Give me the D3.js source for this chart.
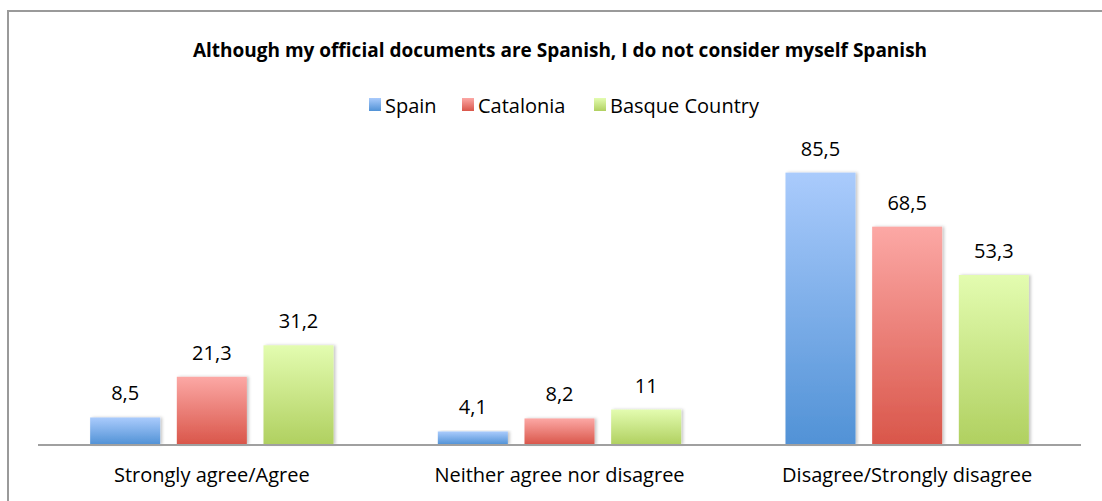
<!DOCTYPE html>
<html>
<head>
<meta charset="utf-8">
<script src="https://cdn.jsdelivr.net/npm/d3@7"></script>
<style>
  html, body { margin: 0; padding: 0; background: #fff; }
  svg { display: block; }
  text { font-family: "Open Sans", Lato, "Liberation Sans", sans-serif; fill: #000; }
</style>
</head>
<body>
<svg id="chart" width="1102" height="501"></svg>
<script>
// Survey answers by region
const categories = ["Strongly agree/Agree", "Neither agree nor disagree", "Disagree/Strongly disagree"];
const seriesNames = ["Spain", "Catalonia", "Basque Country"];
const spainValues = [8.5, 4.1, 85.5];
const cataloniaValues = [21.3, 8.2, 68.5];
const basqueValues = [31.2, 11, 53.3];
const titleText = "Although my official documents are Spanish, I do not consider myself Spanish";

const seriesValues = [spainValues, cataloniaValues, basqueValues];
// top / bottom colours of each series' vertical gradient
const gradientStops = [
  ["#aacbfc", "#5192d6"],
  ["#fca8a5", "#d9564a"],
  ["#e3fcb0", "#b0d060"]
];

const svg = d3.select("#chart");
const defs = svg.append("defs");

gradientStops.forEach((c, i) => {
  const g = defs.append("linearGradient")
    .attr("id", "grad" + i)
    .attr("x1", 0).attr("y1", 0).attr("x2", 0).attr("y2", 1);
  g.append("stop").attr("offset", "0%").attr("stop-color", c[0]);
  g.append("stop").attr("offset", "100%").attr("stop-color", c[1]);
});

const shadow = defs.append("filter").attr("id", "barShadow")
  .attr("x", "-20%").attr("y", "-10%").attr("width", "150%").attr("height", "120%");
shadow.append("feDropShadow")
  .attr("dx", 2).attr("dy", 0).attr("stdDeviation", 1.6)
  .attr("flood-color", "#000").attr("flood-opacity", 0.22);

// chart frame
svg.append("path")
  .attr("d", "M8,501 L8,11 L1102,11")
  .attr("fill", "none").attr("stroke", "#9a9a9a").attr("stroke-width", 2);

// title
svg.append("text")
  .attr("x", 560).attr("y", 57)
  .attr("text-anchor", "middle")
  .attr("font-weight", "bold")
  .attr("font-size", 19)
  .text(titleText);

// scales
const x0 = d3.scaleBand()
  .domain(categories)
  .range([38, 1081])
  .paddingInner(0.3)
  .paddingOuter(0.15);

const x1 = d3.scaleBand()
  .domain(seriesNames)
  .range([0, x0.bandwidth()])
  .paddingInner(0.192)
  .paddingOuter(0);

const y = d3.scaleLinear()
  .domain([0, 90])
  .range([444.5, 158.3]);

// bars
const groups = svg.append("g").selectAll("g")
  .data(categories)
  .join("g")
  .attr("transform", d => `translate(${x0(d)},0)`);

groups.selectAll("rect")
  .data((d, ci) => seriesNames.map((s, si) => ({ s, si, v: seriesValues[si][ci] })))
  .join("rect")
  .attr("x", d => x1(d.s))
  .attr("y", d => y(d.v))
  .attr("width", x1.bandwidth())
  .attr("height", d => y(0) - y(d.v))
  .attr("fill", d => `url(#grad${d.si})`)
  .attr("filter", "url(#barShadow)");

// value labels
const fmt = v => String(v).replace(".", ",");
groups.selectAll("text.value")
  .data((d, ci) => seriesNames.map((s, si) => ({ s, si, v: seriesValues[si][ci] })))
  .join("text")
  .attr("class", "value")
  .attr("x", d => x1(d.s) + x1.bandwidth() / 2)
  .attr("y", d => y(d.v) - 17)
  .attr("text-anchor", "middle")
  .attr("font-size", 20)
  .text(d => fmt(d.v));

// category axis
svg.append("line")
  .attr("x1", x0.range()[0]).attr("x2", x0.range()[1])
  .attr("y1", y(0) + 0.5).attr("y2", y(0) + 0.5)
  .attr("stroke", "#a0a0a0").attr("stroke-width", 2);

svg.append("g").selectAll("text")
  .data(categories)
  .join("text")
  .attr("x", d => x0(d) + x0.bandwidth() / 2)
  .attr("y", 482)
  .attr("text-anchor", "middle")
  .attr("font-size", 20)
  .text(d => d);

// legend
const legendX = [369, 462, 594];
const legend = svg.append("g").selectAll("g")
  .data(seriesNames)
  .join("g")
  .attr("transform", (d, i) => `translate(${legendX[i]},0)`);
legend.append("rect")
  .attr("x", 0).attr("y", 98)
  .attr("width", 12).attr("height", 13)
  .attr("fill", (d, i) => `url(#grad${i})`);
legend.append("text")
  .attr("x", 16).attr("y", 113)
  .attr("font-size", 20)
  .text(d => d);
</script>
</body>
</html>
